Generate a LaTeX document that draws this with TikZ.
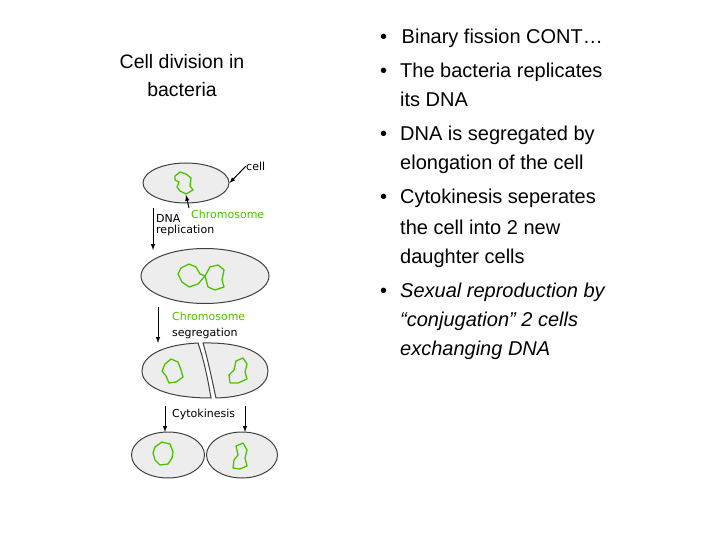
\documentclass[tikz,border=0pt]{standalone}
\usepackage{fontspec}
\setmainfont{Liberation Sans}
\setsansfont{DejaVu Sans}
\usetikzlibrary{shapes.geometric}
\begin{document}
\begin{tikzpicture}[x=1pt,y=-1pt,
 cellc/.style={draw=black!75,fill=black!7,line width=1pt},
 chrom/.style={draw=green!60!black!60!lime,line width=1.3pt,line join=round},
 arr/.style={-latex,line width=1pt},
 lab/.style={font=\sffamily\fontsize{11}{12}\selectfont,inner sep=0pt,anchor=west,align=left},
 big/.style={font=\fontsize{20}{29}\selectfont,inner sep=0pt,anchor=base west},
 bigi/.style={big,font=\fontsize{20}{29}\selectfont\itshape}]
\useasboundingbox (0,0) rectangle (720,540);
\node[font=\fontsize{19.5}{28}\selectfont,align=center] (title) at (182,76) {Cell division in\\bacteria};
% cells
\node[cellc,ellipse,minimum width=86,minimum height=40,inner sep=0] (c1) at (186,183) {};
\draw[chrom] (175,176)--(180,172)--(186,174)--(191,178)--(190,186)--(193,190)--(186,194)--(180,191)--(177,187)--(179,182)--(175,180)--cycle;
\node[cellc,ellipse,minimum width=128,minimum height=55,inner sep=0] (c2) at (205,276) {};
\draw[chrom] (181,268)--(189,264)--(196,267)--(200,274)--(205,276)--(198,284)--(189,287)--(182,282)--(178,274)--cycle;
\draw[chrom] (205,276)--(210,267)--(218,265)--(224,270)--(222,280)--(224,287)--(215,290)--(208,287)--cycle;
\path[cellc] (198,343) .. controls (158,345) and (142,358) .. (142,371) .. controls (142,386) and (165,398) .. (211,398) .. controls (208,380) and (204,360) .. cycle;
\node[inner sep=0] (c3l) at (172,370) {};
\path[cellc] (203,343) .. controls (252,342) and (268,358) .. (268,371) .. controls (268,386) and (250,397) .. (216,398) .. controls (212,380) and (208,360) .. cycle;
\node[inner sep=0] (c3r) at (240,370) {};
\draw[chrom] (165,364)--(171,359)--(178,362)--(181,370)--(183,377)--(176,382)--(169,383)--(166,376)--(162,371)--cycle;
\draw[chrom] (236,361)--(243,358)--(247,364)--(245,372)--(247,379)--(238,383)--(230,383)--(229,375)--(234,370)--cycle;
\node[cellc,ellipse,minimum width=73,minimum height=46,inner sep=0] (c4) at (168,455) {};
\node[cellc,ellipse,minimum width=71,minimum height=46,inner sep=0] (c5) at (242,455) {};
\draw[chrom] (155,447)--(162,442)--(170,444)--(173,452)--(172,458)--(168,464)--(160,465)--(155,460)--(153,453)--cycle;
\draw[chrom] (236,446)--(243,443)--(247,450)--(245,458)--(247,466)--(240,469)--(233,468)--(234,460)--(238,455)--cycle;
% arrows
\coordinate (a1s) at (153,208); \coordinate (a1e) at (153,250);
\draw[arr] (a1s)--(a1e);
\coordinate (a2s) at (158,307); \coordinate (a2e) at (158,343);
\draw[arr] (a2s)--(a2e);
\coordinate (a3s) at (165,406); \coordinate (a3e) at (165,432);
\draw[arr] (a3s)--(a3e);
\coordinate (a4s) at (245,406); \coordinate (a4e) at (245,432);
\draw[arr] (a4s)--(a4e);
% labels
\node[lab] (lcell) at (246,166) {cell};
\draw[arr] (lcell.west) -- (c1.east);
\node[lab,text=green!60!black!60!lime] (lchr) at (191,214) {Chromosome};
\draw[arr] (189,208) -- (186,195);
\node[lab] (ldna) at (156,225) {DNA\\[-1pt]replication};
\node[lab,text=green!60!black!60!lime] (lchr2) at (172,316) {Chromosome};
\node[lab] (lseg) at (172,333) {segregation};
\node[lab] (lcyt) at (172,414) {Cytokinesis};
% bullets
\node[big] (b0) at (380,44) {•\hspace{9pt} Binary fission CONT…};
\node[big] (b1) at (380,78) {•};
\node[big] (t1a) at (400,78) {The bacteria replicates};
\node[big] (t1b) at (400,107) {its DNA};
\node[big] (b2) at (380,141) {•};
\node[big] (t2a) at (400,141) {DNA is segregated by};
\node[big] (t2b) at (400,170) {elongation of the cell};
\node[big] (b3) at (380,204) {•};
\node[big] (t3a) at (400,204) {Cytokinesis seperates};
\node[big] (t3b) at (400,234) {the cell into 2 new};
\node[big] (t3c) at (400,263) {daughter cells};
\node[big] (b4) at (380,297) {•};
\node[bigi] (t4a) at (400,297) {Sexual reproduction by};
\node[bigi] (t4b) at (400,326) {“conjugation” 2 cells};
\node[bigi] (t4c) at (400,355) {exchanging DNA};
\end{tikzpicture}
\end{document}
